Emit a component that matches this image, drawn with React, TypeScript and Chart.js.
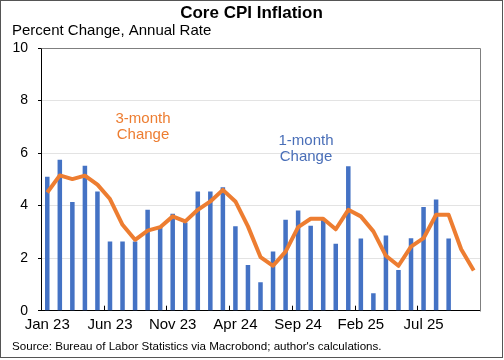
import React, { useEffect, useRef } from "react";
import { Chart, registerables } from "chart.js";

Chart.register(...registerables);

const categories = [
  "Jan 23", "Feb 23", "Mar 23", "Apr 23", "May 23", "Jun 23", "Jul 23", "Aug 23", "Sep 23", "Oct 23", "Nov 23", "Dec 23",
  "Jan 24", "Feb 24", "Mar 24", "Apr 24", "May 24", "Jun 24", "Jul 24", "Aug 24", "Sep 24", "Oct 24", "Nov 24", "Dec 24",
  "Jan 25", "Feb 25", "Mar 25", "Apr 25", "May 25", "Jun 25", "Jul 25", "Aug 25", "Sep 25", "Oct 25", "Nov 25",
];

const tickLabels = ["Jan 23", "Jun 23", "Nov 23", "Apr 24", "Sep 24", "Feb 25", "Jul 25"];

const oneMonth: (number | null)[] = [
  5.1, 5.75, 4.14, 5.52, 4.54, 2.63, 2.63, 2.63, 3.84, 3.21, 3.69, 3.36,
  4.54, 4.54, 4.7, 3.21, 1.74, 1.08, 2.25, 3.46, 3.81, 3.23, 3.46, 2.55,
  5.5, 2.75, 0.66, 2.86, 1.55, 2.76, 3.95, 4.23, 2.75, null, null,
];

const threeMonth: number[] = [
  4.5, 5.15, 5.01, 5.14, 4.8, 4.25, 3.27, 2.7, 3.05, 3.18, 3.59, 3.4,
  3.84, 4.16, 4.6, 4.16, 3.21, 2.04, 1.71, 2.25, 3.18, 3.5, 3.5, 3.1,
  3.84, 3.59, 3.02, 2.09, 1.71, 2.44, 2.76, 3.65, 3.65, 2.34, 1.53,
];

const yTicks = [0, 2, 4, 6, 8, 10];

const FONT = "'Liberation Sans', Arial, sans-serif";
const BLUE = "#4472C4";
const ORANGE = "#ED7D31";

const decorPlugin = {
  id: "decor",
  afterDraw(chart: any) {
    const ctx = chart.ctx;
    const area = chart.chartArea;
    const xs = chart.scales.x;
    ctx.save();
    // frame top & right
    ctx.strokeStyle = "#7f7f7f";
    ctx.lineWidth = 1;
    ctx.beginPath();
    ctx.moveTo(Math.round(area.left) + 0.5, Math.round(area.top) + 0.5);
    ctx.lineTo(Math.round(area.right) + 0.5, Math.round(area.top) + 0.5);
    ctx.lineTo(Math.round(area.right) + 0.5, Math.round(area.bottom) + 0.5);
    ctx.stroke();
    // inner x tick marks at category boundaries
    ctx.strokeStyle = "#000";
    ctx.beginPath();
    categories.forEach((c, i) => {
      if (i > 0 && tickLabels.includes(c)) {
        const px = Math.round((xs.getPixelForValue(i - 1) + xs.getPixelForValue(i)) / 2) + 0.5;
        ctx.moveTo(px, area.bottom);
        ctx.lineTo(px, area.bottom - 5);
      }
    });
    ctx.stroke();
    // outer border
    ctx.strokeStyle = "#555";
    ctx.strokeRect(0.5, 0.5, 502, 357);
    // texts
    ctx.fillStyle = "#000";
    ctx.textBaseline = "middle";
    ctx.textAlign = "center";
    ctx.font = `bold 17px ${FONT}`;
    ctx.fillText("Core CPI Inflation", 251.5, 13);
    ctx.textAlign = "left";
    ctx.font = `15px ${FONT}`;
    ctx.fillText("Percent Change, Annual Rate", 12, 31);
    ctx.font = `11.6px ${FONT}`;
    ctx.fillText("Source: Bureau of Labor Statistics via Macrobond; author's calculations.", 12, 347);
    ctx.textAlign = "center";
    ctx.font = `15px ${FONT}`;
    ctx.fillStyle = ORANGE;
    ctx.fillText("3-month", 143, 119);
    ctx.fillText("Change", 143, 135);
    ctx.fillStyle = "#4A6FB8";
    ctx.fillText("1-month", 306, 141);
    ctx.fillText("Change", 306, 157);
    ctx.restore();
  },
};

export default function App() {
  const ref = useRef<HTMLCanvasElement | null>(null);
  useEffect(() => {
    if (!ref.current) return;
    const chart = new Chart(ref.current, {
      type: "bar",
      data: {
        labels: categories,
        datasets: [
          {
            type: "line",
            label: "3-month Change",
            data: threeMonth,
            borderColor: ORANGE,
            backgroundColor: ORANGE,
            borderWidth: 4,
            pointRadius: 0,
            tension: 0,
            borderJoinStyle: "round",
            order: 0,
          } as any,
          {
            type: "bar",
            label: "1-month Change",
            data: oneMonth,
            backgroundColor: BLUE,
            categoryPercentage: 0.8,
            barPercentage: 0.45,
            order: 1,
          } as any,
        ],
      },
      options: {
        responsive: false,
        animation: false,
        devicePixelRatio: 1,
        layout: { padding: { left: 0, right: 24, top: 48, bottom: 0 } },
        plugins: { legend: { display: false }, title: { display: false }, tooltip: { enabled: false } },
        scales: {
          x: {
            offset: true,
            grid: { display: false, drawTicks: false },
            border: { display: true, color: "#000", width: 1 },
            ticks: {
              autoSkip: false,
              maxRotation: 0,
              minRotation: 0,
              padding: 5,
              color: "#000",
              font: { family: FONT, size: 15 },
              callback: (_v: any, i: number) => (tickLabels.includes(categories[i]) ? categories[i] : ""),
            },
            afterFit: (s: any) => {
              s.height = 49.3;
            },
          },
          y: {
            min: 0,
            max: 10,
            afterBuildTicks: (s: any) => {
              s.ticks = yTicks.map((v) => ({ value: v }));
            },
            grid: { color: "#e3e3e3", tickColor: "#000", tickLength: 3, drawTicks: true },
            border: { display: true, color: "#000", width: 1 },
            ticks: {
              padding: 10,
              color: "#000",
              font: { family: FONT, size: 14 },
            },
            afterFit: (s: any) => {
              s.width = 41;
            },
          },
        },
      },
      plugins: [decorPlugin],
    });
    return () => chart.destroy();
  }, []);
  return (
    <div style={{ position: "fixed", left: 0, top: 0, width: 504, height: 360, background: "#fff" }}>
      <canvas ref={ref} width={504} height={360} style={{ width: 504, height: 360, display: "block" }} />
    </div>
  );
}
